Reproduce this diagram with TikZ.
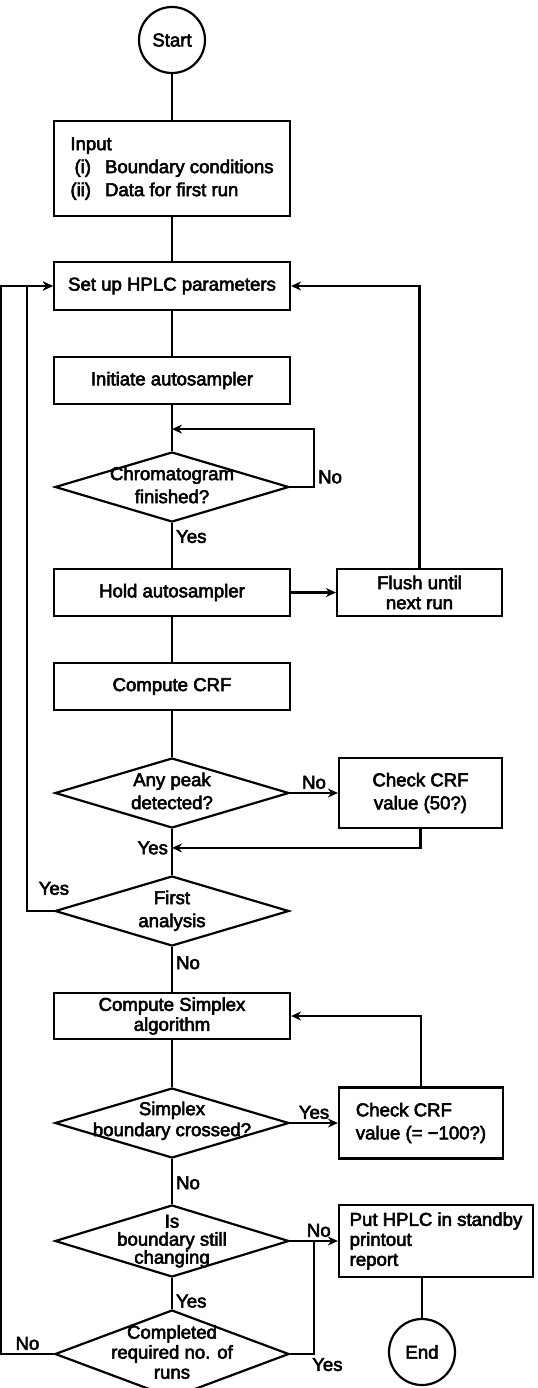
\documentclass[tikz,border=0pt]{standalone}
\usepackage{fontspec}
\setmainfont[FakeBold=3]{Liberation Sans}
\usetikzlibrary{positioning,shapes.geometric,arrows.meta}
\newcommand{\dtext}[1]{\makebox[0pt]{\begin{tabular}{@{}c@{}}#1\end{tabular}}}

\begin{document}
\begin{tikzpicture}[>={Stealth[length=5pt,width=4.5pt]},line width=1.1pt,
  every node/.style={font=\fontsize{9.3}{11.5}\selectfont},
  box/.style={draw,rectangle,minimum width=118pt,minimum height=23.5pt,align=center,inner sep=3pt},
  tight/.style={inner ysep=1.5pt,font=\fontsize{9.3}{10}\selectfont},
  decision/.style={draw,diamond,aspect=3.3,inner sep=0pt,minimum width=117pt,minimum height=35pt},
  terminal/.style={draw,circle,minimum size=33pt,inner sep=0pt},
  lbl/.style={draw=none,inner sep=1.5pt}]
\useasboundingbox (-86pt,20pt) rectangle (182.5pt,-674pt);
\node[terminal] (start) at (0,0) {Start};
\node[box,below of=start,node distance=64.25pt,minimum height=47.5pt] (input) {\begin{tabular}{@{}r@{\hspace{7pt}}l@{}}\multicolumn{2}{@{}l@{}}{Input}\\(i) & Boundary conditions\\(ii) & Data for first run\end{tabular}};
\node[box,below of=input,node distance=58.75pt,minimum height=24pt] (setup) {Set up HPLC parameters};
\node[box,below of=setup,node distance=47.25pt] (init) {Initiate autosampler};
\node[decision,below of=init,node distance=53.25pt] (chrom) {\dtext{Chromatogram\\finished?}};
\node[box,below of=chrom,node distance=52.75pt] (hold) {Hold autosampler};
\node[box,tight,right of=hold,node distance=123.75pt,minimum width=82.5pt] (flush) {Flush until\\next run};
\node[box,below of=hold,node distance=47pt] (crf) {Compute CRF};
\node[decision,below of=crf,node distance=53.25pt] (peak) {\dtext{Any peak\\detected?}};
\node[box,right of=peak,node distance=124.25pt,minimum width=81.5pt,minimum height=35pt] (chk1) {Check CRF\\value (50?)};
\node[decision,below of=peak,node distance=59pt] (first) {\dtext{First\\analysis}};
\node[box,tight,below of=first,node distance=52.5pt,minimum height=23pt] (simbox) {Compute Simplex\\algorithm};
\node[decision,below of=simbox,node distance=53.5pt] (simdia) {\dtext{Simplex\\[-1pt]boundary crossed?\\[2pt]}};
\node[box,right of=simdia,node distance=124.5pt,minimum width=82pt,minimum height=35.5pt,align=left] (chk2) {Check CRF\\value (= −100?)};
\node[decision,below of=simdia,node distance=59pt,minimum height=36pt] (isb) {\dtext{Is\\[-2.5pt]boundary still\\[-2.5pt]changing}};
\node[box,tight,right of=isb,node distance=132pt,minimum width=97pt,minimum height=36pt,align=left,inner xsep=4pt] (put) {Put HPLC in standby\\printout\\report};
\node[decision,below of=isb,node distance=56.5pt,minimum height=44pt] (comp) {\dtext{Completed\\[-1.5pt]required no. of\\[-1.5pt]runs}};
\node[terminal,below of=put,node distance=55.5pt,xshift=-7pt] (end) {End};
\coordinate[below=12pt of init.south] (back);
\coordinate[above=13.5pt of first.north] (merge);
\coordinate[right=12pt of isb.east] (join);
% main column
\draw (start) -- (input);
\draw (input) -- (setup);
\draw (setup) -- (init);
\draw (init) -- (chrom);
\draw[->] (chrom.east) -- ++(12pt,0) node[lbl,right,pos=1,yshift=5pt] {No} |- (back);
\draw (chrom) -- node[lbl,right,pos=0.3] {Yes} (hold);
\draw[->] (hold) -- (flush);
\draw[->] (flush.north) |- (setup.east);
\draw (hold) -- (crf);
\draw (crf) -- (peak);
\draw[->] (peak.east) -- node[lbl,above] {No} (chk1.west);
\draw (peak) -- (first);
\draw[->] (chk1.south) |- node[lbl,left,pos=1] {Yes} (merge);
\draw[->] (first.west) -- node[lbl,above=6pt,pos=0] {Yes} ++(-13.5pt,0) |- (setup.west);
\draw (first) -- node[lbl,right,pos=0.35] {No} (simbox);
\draw (simbox) -- (simdia);
\draw[->] (simdia.east) -- node[lbl,above] {Yes} (chk2.west);
\draw[->] (chk2.north) |- (simbox.east);
\draw (simdia) -- node[lbl,right,pos=0.53] {No} (isb);
\draw[->] (isb.east) -- node[lbl,above,pos=0.6] {No} (put.west);
\draw (isb) -- node[lbl,right,pos=0.75] {Yes} (comp);
\draw (comp.east) -| node[lbl,below right,pos=0.5,xshift=-3pt] {Yes} (join);
\draw[->] (comp.west) -- node[lbl,above] {No} ++(-26.5pt,0) |- (setup.west);
\draw (put.south -| end.north) -- (end.north);
\end{tikzpicture}
\end{document}
